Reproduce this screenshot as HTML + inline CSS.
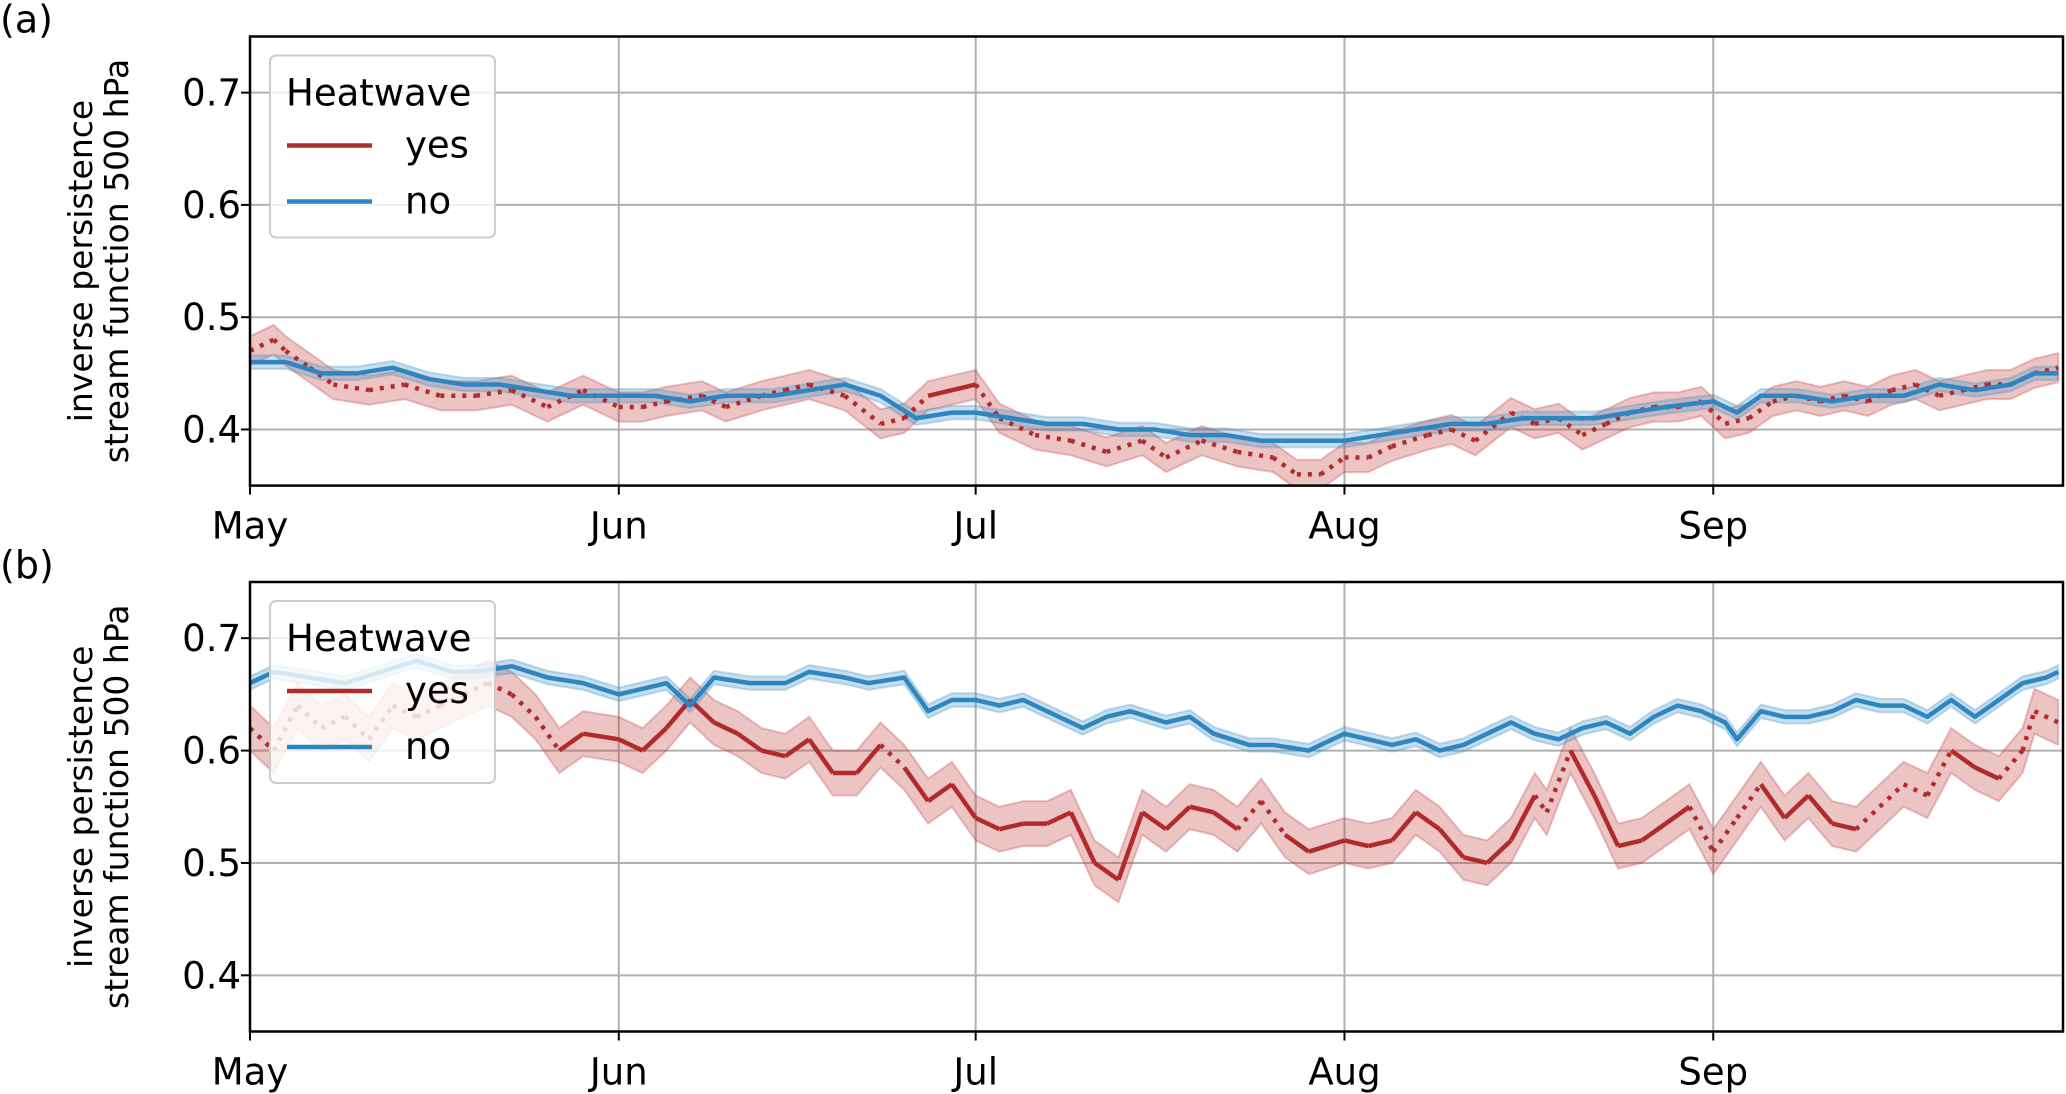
<!DOCTYPE html>
<html><head><meta charset="utf-8"><style>
html,body{margin:0;padding:0;background:#fff;}
svg{display:block;font-family:"DejaVu Sans","Liberation Sans",sans-serif;}
</style></head><body>
<svg id="chart" width="2066" height="1094" viewBox="0 0 2066 1094" xmlns="http://www.w3.org/2000/svg"></svg>
<script>
// ---- data ----
const monthLabels = ["May","Jun","Jul","Aug","Sep"];
const monthDays = [0,31,61,92,123];
const yTicks = [0.4,0.5,0.6,0.7];

const aNoDays = [0,3,6,9,12,15,18,21,24,27,31,34,37,40,44,47,50,53,56,59,61,64,67,70,73,76,79,82,85,88,92,95,98,101,104,107,110,113,116,119,123,125,127,130,133,136,139,142,145,148,150,152];
const aNoVals = [0.46,0.46,0.45,0.45,0.455,0.445,0.44,0.44,0.435,0.43,0.43,0.43,0.425,0.43,0.43,0.435,0.44,0.43,0.41,0.415,0.415,0.41,0.405,0.405,0.4,0.4,0.395,0.395,0.39,0.39,0.39,0.395,0.4,0.405,0.405,0.41,0.41,0.41,0.415,0.42,0.425,0.415,0.43,0.43,0.425,0.43,0.43,0.44,0.435,0.44,0.45,0.45];

const aYesDays = [0,2,3,5,7,10,13,16,19,22,25,28,31,33,35,38,40,43,45,47,50,53,55,57,59,61,63,66,69,72,75,77,80,83,86,88,90,92,94,96,99,101,103,106,108,110,112,114,116,118,120,122,124,126,128,130,132,134,136,138,140,142,144,146,148,150,152];
const aYesVals = [0.47,0.48,0.47,0.455,0.44,0.435,0.44,0.43,0.43,0.435,0.42,0.435,0.42,0.42,0.425,0.43,0.42,0.43,0.435,0.44,0.43,0.405,0.41,0.43,0.435,0.44,0.41,0.395,0.39,0.38,0.39,0.375,0.39,0.38,0.375,0.36,0.36,0.375,0.375,0.385,0.395,0.4,0.39,0.415,0.405,0.41,0.395,0.405,0.415,0.42,0.42,0.425,0.405,0.41,0.425,0.43,0.425,0.43,0.425,0.435,0.44,0.43,0.435,0.44,0.44,0.45,0.455];
const aYesSolid = [57,61];

const bNoDays = [0,2,5,8,11,14,17,19,22,25,28,31,33,35,37,39,42,45,47,50,52,55,57,59,61,63,65,67,70,72,74,77,79,81,84,86,89,92,94,96,98,100,102,104,106,108,110,112,114,116,118,120,122,124,125,127,129,131,133,135,137,139,141,143,145,147,149,151,152];
const bNoVals = [0.66,0.67,0.665,0.66,0.67,0.68,0.67,0.67,0.675,0.665,0.66,0.65,0.655,0.66,0.64,0.665,0.66,0.66,0.67,0.665,0.66,0.665,0.635,0.645,0.645,0.64,0.645,0.635,0.62,0.63,0.635,0.625,0.63,0.615,0.605,0.605,0.6,0.615,0.61,0.605,0.61,0.6,0.605,0.615,0.625,0.615,0.61,0.62,0.625,0.615,0.63,0.64,0.635,0.625,0.61,0.635,0.63,0.63,0.635,0.645,0.64,0.64,0.63,0.645,0.63,0.645,0.66,0.665,0.67];

const bYesDays = [0,2,4,6,8,10,12,14,16,18,20,22,24,26,28,31,33,35,37,39,41,43,45,47,49,51,53,55,57,59,61,63,65,67,69,71,73,75,77,79,81,83,85,87,89,92,94,96,98,100,102,104,106,108,109,111,113,115,117,119,121,123,125,127,129,131,133,135,137,139,141,143,145,147,149,150,152];
const bYesVals = [0.62,0.6,0.64,0.62,0.63,0.61,0.64,0.63,0.64,0.65,0.66,0.65,0.63,0.6,0.615,0.61,0.6,0.62,0.645,0.625,0.615,0.6,0.595,0.61,0.58,0.58,0.605,0.585,0.555,0.57,0.54,0.53,0.535,0.535,0.545,0.5,0.485,0.545,0.53,0.55,0.545,0.53,0.555,0.525,0.51,0.52,0.515,0.52,0.545,0.53,0.505,0.5,0.52,0.56,0.545,0.6,0.56,0.515,0.52,0.535,0.55,0.51,0.54,0.57,0.54,0.56,0.535,0.53,0.55,0.57,0.56,0.6,0.585,0.575,0.6,0.635,0.625];
const bYesDotted = [[0,27],[52,56],[83,87],[108,111],[121,124],[125,127],[135,143],[147,149],[150,152]];

// ---- geometry ----
const L=250, R=2063, X0=0, X1=152.4, Y0=0.35, Y1=0.75;
const panels=[{top:36.5,bot:485.6,label:"(a)"},{top:582,bot:1031.5,label:"(b)"}];
const NS="http://www.w3.org/2000/svg";
const svg=document.getElementById("chart");
function el(tag,attrs,parent){const e=document.createElementNS(NS,tag);for(const k in attrs)e.setAttribute(k,attrs[k]);(parent||svg).appendChild(e);return e;}
const xs=d=>L+(d-X0)/(X1-X0)*(R-L);
function mkY(p){return v=>p.bot-(v-Y0)/(Y1-Y0)*(p.bot-p.top);}
const RED="#b22b2b", BLUE="#2e86c1";

function band(days,vals,hw,ys,color,name,g){
  let up=days.map((d,i)=>xs(d)+","+ys(vals[i]+hw));
  let dn=days.map((d,i)=>xs(d)+","+ys(vals[i]-hw)).reverse();
  const b=el("polygon",{points:up.concat(dn).join(" "),fill:color,"fill-opacity":0.3,stroke:color,"stroke-opacity":0.3,"stroke-width":2},g);
  
  
}
function line(days,vals,ys,color,dash,name,g,lo,hi){
  const pts=[];days.forEach((d,i)=>{if(d>=lo&&d<=hi)pts.push(xs(d)+","+ys(vals[i]));});
  if(pts.length<2)return;
  const a={points:pts.join(" "),fill:"none",stroke:color,"stroke-width":4.5,"stroke-linejoin":"round"};
  if(dash)a["stroke-dasharray"]="4 7";
  const l=el("polyline",a,g);
  
  
}
function inRanges(d,r){return r.some(q=>d>=q[0]&&d<=q[1]);}

function drawPanel(p,idx,noD,noV,yesD,yesV,styleFn){
  const ys=mkY(p);
  const g=el("g",{});
  
  
  el("rect",{x:L,y:p.top,width:R-L,height:p.bot-p.top,fill:"#fff"},g);
  monthDays.forEach((d,i)=>{
    const gl=el("line",{x1:xs(d),x2:xs(d),y1:p.top,y2:p.bot,stroke:"#b0b0b0","stroke-width":2},g);
    
    
    const tk=el("line",{x1:xs(d),x2:xs(d),y1:p.bot,y2:p.bot+9,stroke:"#000","stroke-width":2},g);
    
    
    const t=el("text",{x:xs(d),y:p.bot+53,"text-anchor":"middle","font-size":37,fill:"#000"},g);
    t.textContent=monthLabels[i];
    
    
  });
  yTicks.forEach(v=>{
    const gl=el("line",{x1:L,x2:R,y1:ys(v),y2:ys(v),stroke:"#b0b0b0","stroke-width":2},g);
    
    
    const tk=el("line",{x1:L-9,x2:L,y1:ys(v),y2:ys(v),stroke:"#000","stroke-width":2},g);
    
    
    const t=el("text",{x:L-9,y:ys(v)+13,"text-anchor":"end","font-size":37,fill:"#000"},g);
    t.textContent=v.toFixed(1);
    
    
  });
  const cid="clip"+idx;
  const cp=el("clipPath",{id:cid},g);el("rect",{x:L,y:p.top,width:R-L,height:p.bot-p.top},cp);
  const dg=el("g",{"clip-path":"url(#"+cid+")"},g);
  band(yesD,yesV,idx?0.02:0.013,ys,"#c43a3a","yes-band",dg);
  band(noD,noV,0.006,ys,"#4393c3","no-band",dg);
  for(let i=0;i<yesD.length-1;i++){
    const dash=styleFn(yesD[i],yesD[i+1]);
    line(yesD,yesV,ys,RED,dash,"yes-line",dg,yesD[i],yesD[i+1]);
  }
  line(noD,noV,ys,BLUE,false,"no-line",dg,-1,999);
  el("rect",{x:L,y:p.top,width:R-L,height:p.bot-p.top,fill:"none",stroke:"#000","stroke-width":2.5},g);
  const lg=el("g",{},g);
  
  
  const ly=p.top+19;
  el("rect",{x:270,y:ly,width:225,height:182,rx:6,fill:"#fff","fill-opacity":0.8,stroke:"#ccc","stroke-width":2},lg);
  const lt=el("text",{x:286,y:ly+50,"font-size":37,fill:"#000"},lg);lt.textContent="Heatwave";
  
  
  [["yes",RED],["no",BLUE]].forEach((e,i)=>{
    const yy=ly+90+i*56;
    const s=el("line",{x1:287,x2:372,y1:yy,y2:yy,stroke:e[1],"stroke-width":4.5},lg);
    
    
    const t=el("text",{x:405,y:yy+12,"font-size":37,fill:"#000"},lg);t.textContent=e[0];
    
    
  });
  const cy=(p.top+p.bot)/2;
  [["inverse persistence",92],["stream function 500 hPa",128]].forEach((q,i)=>{
    const t=el("text",{x:q[1],y:cy,"text-anchor":"middle","font-size":33,fill:"#000",transform:"rotate(-90 "+q[1]+" "+cy+")"},g);
    t.textContent=q[0];
    
    
  });
  const pl=el("text",{x:0,y:p.top-4,"font-size":38,fill:"#000"},g);pl.textContent=p.label;
  
  
}
drawPanel(panels[0],0,aNoDays,aNoVals,aYesDays,aYesVals,(a,b)=>!(a>=aYesSolid[0]&&b<=aYesSolid[1]));
drawPanel(panels[1],1,bNoDays,bNoVals,bYesDays,bYesVals,(a,b)=>inRanges(a,bYesDotted)&&inRanges(b,bYesDotted));
</script>
</body></html>
